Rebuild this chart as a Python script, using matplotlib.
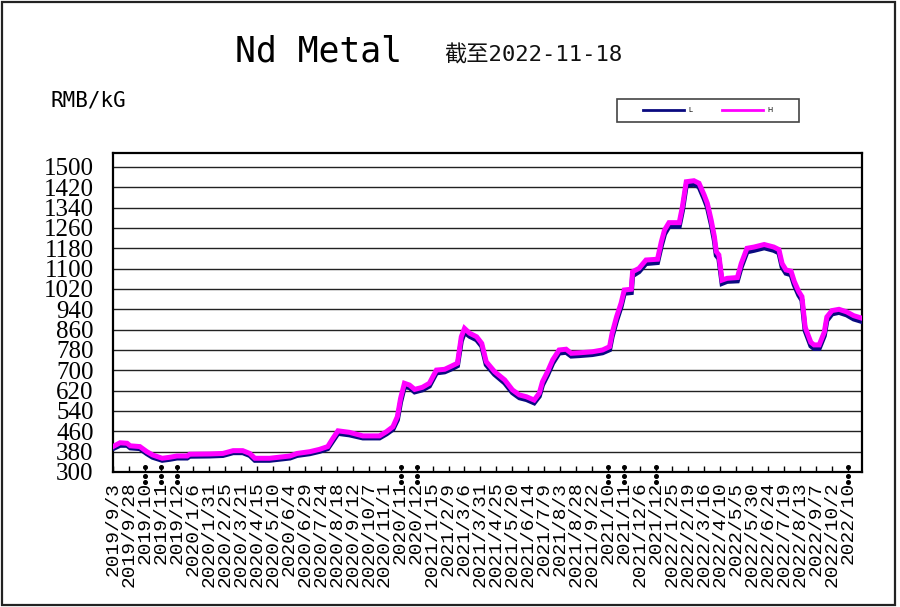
import matplotlib
matplotlib.use("Agg")
import matplotlib.pyplot as plt
import matplotlib.transforms as mtransforms
from matplotlib.patches import Rectangle
import pandas as pd

# ---------------- data ----------------
dates = [
    "2019-09-03", "2019-09-14", "2019-09-25", "2019-09-30", "2019-10-15", "2019-10-26",
    "2019-11-04", "2019-11-19", "2019-12-01", "2019-12-12", "2019-12-28", "2020-01-01",
    "2020-02-02", "2020-02-22", "2020-03-09", "2020-03-24", "2020-04-04", "2020-04-12",
    "2020-05-05", "2020-06-06", "2020-06-17", "2020-07-07", "2020-07-22", "2020-08-04",
    "2020-08-12", "2020-08-20", "2020-09-07", "2020-09-28", "2020-10-24", "2020-11-04",
    "2020-11-14", "2020-11-21", "2020-11-26", "2020-12-02", "2020-12-10", "2020-12-18",
    "2020-12-30", "2021-01-10", "2021-01-21", "2021-02-03", "2021-02-14", "2021-02-23",
    "2021-03-01", "2021-03-06", "2021-03-14", "2021-03-25", "2021-04-02", "2021-04-09",
    "2021-04-22", "2021-05-08", "2021-05-20", "2021-05-31", "2021-06-11", "2021-06-23",
    "2021-07-01", "2021-07-06", "2021-07-14", "2021-07-22", "2021-08-01", "2021-08-12",
    "2021-08-20", "2021-09-02", "2021-09-22", "2021-10-08", "2021-10-19", "2021-10-23",
    "2021-10-30", "2021-11-06", "2021-11-11", "2021-11-22", "2021-11-24", "2021-12-04",
    "2021-12-15", "2022-01-02", "2022-01-08", "2022-01-13", "2022-01-20", "2022-02-05",
    "2022-02-10", "2022-02-16", "2022-02-28", "2022-03-08", "2022-03-16", "2022-03-21",
    "2022-03-27", "2022-04-01", "2022-04-04", "2022-04-08", "2022-04-13", "2022-04-21",
    "2022-05-07", "2022-05-13", "2022-05-22", "2022-06-02", "2022-06-18", "2022-07-03",
    "2022-07-11", "2022-07-16", "2022-07-22", "2022-07-30", "2022-08-04", "2022-08-11",
    "2022-08-16", "2022-08-21", "2022-08-30", "2022-09-04", "2022-09-12", "2022-09-20",
    "2022-09-24", "2022-10-02", "2022-10-13", "2022-10-25", "2022-11-05", "2022-11-18",
]

high = [
    400, 415, 413, 403, 400, 380, 367, 354, 358, 363, 363, 370,
    371, 373, 384, 384, 373, 354, 354, 363, 373, 380, 389, 400,
    432, 462, 456, 442, 442, 459, 478, 518, 590, 649, 642, 625,
    633, 649, 701, 704, 717, 728, 832, 865, 846, 832, 806, 734,
    695, 662, 623, 603, 596, 583, 610, 655, 695, 741, 780, 783,
    767, 769, 773, 780, 793, 846, 911, 964, 1016, 1019, 1088, 1101,
    1134, 1137, 1206, 1252, 1281, 1281, 1344, 1442, 1446, 1436, 1390, 1357,
    1291, 1226, 1167, 1154, 1055, 1062, 1065, 1120, 1180, 1185, 1195, 1185,
    1175, 1120, 1095, 1090, 1050, 1010, 990, 870, 810, 800, 800, 850,
    910, 935, 940, 930, 915, 905,
]

low = [
    392, 405, 405, 395, 392, 372, 358, 346, 350, 355, 355, 362,
    363, 365, 376, 376, 365, 346, 346, 355, 365, 372, 381, 392,
    422, 452, 446, 434, 434, 450, 468, 505, 575, 636, 632, 615,
    623, 638, 690, 694, 706, 718, 815, 850, 834, 820, 795, 722,
    684, 650, 612, 592, 585, 572, 598, 642, 682, 728, 768, 771,
    756, 758, 762, 769, 781, 832, 896, 950, 1003, 1006, 1072, 1088,
    1120, 1124, 1190, 1236, 1266, 1266, 1328, 1428, 1432, 1422, 1375, 1342,
    1276, 1210, 1152, 1140, 1042, 1050, 1052, 1106, 1166, 1172, 1182, 1172,
    1162, 1106, 1082, 1076, 1036, 996, 976, 856, 796, 786, 786, 836,
    896, 922, 928, 918, 902, 892,
]

tick_dates = [
    "2019-09-03", "2019-09-28", "2019-10-23", "2019-11-17", "2019-12-12", "2020-01-06",
    "2020-01-31", "2020-02-25", "2020-03-21", "2020-04-15", "2020-05-10", "2020-06-04",
    "2020-06-29", "2020-07-24", "2020-08-18", "2020-09-12", "2020-10-07", "2020-11-01",
    "2020-11-26", "2020-12-21", "2021-01-15", "2021-02-09", "2021-03-06", "2021-03-31",
    "2021-04-25", "2021-05-20", "2021-06-14", "2021-07-09", "2021-08-03", "2021-08-28",
    "2021-09-22", "2021-10-17", "2021-11-11", "2021-12-06", "2021-12-31", "2022-01-25",
    "2022-02-19", "2022-03-16", "2022-04-10", "2022-05-05", "2022-05-30", "2022-06-24",
    "2022-07-19", "2022-08-13", "2022-09-07", "2022-10-02", "2022-10-27",
]

y_ticks = list(range(300, 1501, 80))
x_start, x_end = "2019-09-03", "2022-11-18"
y_min, y_max = 300, 1555

title = "Nd Metal"
subtitle = "截至2022-11-18"
unit = "RMB/kG"

assert len(dates) == len(high) == len(low)

# ---------------- figure ----------------
W, H = 900, 607
fig = plt.figure(figsize=(W / 100, H / 100), dpi=100)
fig.patch.set_facecolor("white")


def fx(px):
    return px / W


def fy(py):
    return 1 - py / H


ax = fig.add_axes([fx(113), fy(472), fx(862) - fx(113), fy(153) - fy(472)])

d = pd.to_datetime(dates)
ln_low, = ax.plot(d, low, color="#0a0a80", lw=3.6, solid_joinstyle="miter", zorder=3)
ln_high, = ax.plot(d, high, color="#ff00ff", lw=3.6, solid_joinstyle="miter", zorder=4)

ax.set_xlim(pd.Timestamp(x_start), pd.Timestamp(x_end))
ax.set_ylim(y_min, y_max)

# y axis
ax.set_yticks(y_ticks)
ax.set_yticklabels([str(v) for v in y_ticks], family="Liberation Serif", fontsize=18)
ax.tick_params(axis="y", length=0, pad=14)
ax.yaxis.grid(True, color="#222222", lw=1.0)
ax.set_axisbelow(True)

# x axis
td = pd.to_datetime(tick_dates)
labels = []
trunc = []
for t in td:
    s = f"{t.year}/{t.month}/{t.day}"
    if len(s) > 9:
        labels.append(f"{t.year}/{t.month}")
        trunc.append(t)
    else:
        labels.append(s)
ax.set_xticks(td)
ax.set_xticklabels(labels, rotation=90, family="Liberation Mono", fontsize=14,
                   va="top", ha="center")
ax.tick_params(axis="x", direction="in", length=4.5, width=1.0, pad=7, color="black")

for sp in ax.spines.values():
    sp.set_color("black")
    sp.set_linewidth(1.6)

# ellipsis dots for truncated labels
base = ax.get_xaxis_transform()
for dy in (5, -4, -10):
    tr = mtransforms.offset_copy(base, fig=fig, x=0, y=dy, units="dots")
    ax.plot(trunc, [0] * len(trunc), ls="none", marker="o", ms=2.6,
            color="black", transform=tr, clip_on=False, zorder=6)

# titles
fig.text(fx(235), fy(62), title, family="DejaVu Sans Mono", fontsize=25, va="baseline")
fig.text(fx(444), fy(62), subtitle, family=["DejaVu Sans Mono", "Noto Sans CJK SC"],
         fontsize=16, va="baseline", color="#111111")
fig.text(fx(50), fy(106), unit, family="DejaVu Sans Mono", fontsize=15, va="baseline")

# legend
fig.patches.append(Rectangle((fx(617), fy(122)), fx(799) - fx(617), fy(99) - fy(122),
                             transform=fig.transFigure, fill=False, ec="#444444",
                             lw=1.2, zorder=5))
leg = fig.legend([ln_low, ln_high], ["L", "H"], loc="center",
                 bbox_to_anchor=(fx(708), fy(110.5)), ncol=2, frameon=False,
                 fontsize=5, handlelength=5.9, columnspacing=4.3, handletextpad=0.6,
                 borderpad=0, borderaxespad=0)
for h in leg.legend_handles:
    h.set_linewidth(2)

# outer frame
fig.patches.append(Rectangle((fx(1.5), fy(605)), fx(895) - fx(1.5), fy(1.5) - fy(605),
                             transform=fig.transFigure, fill=False, ec="#222222",
                             lw=1.6, zorder=10))

fig.savefig("out.png", dpi=100, facecolor="white")
